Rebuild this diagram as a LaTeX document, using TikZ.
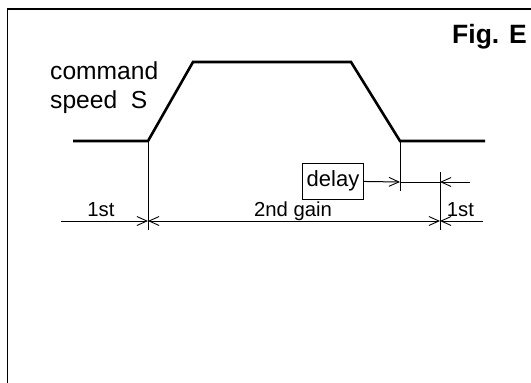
\documentclass[tikz,border=0pt]{standalone}
\usepackage{fontspec}
\setmainfont{Liberation Sans}
\usepackage{tikz}
\usetikzlibrary{arrows.meta}

\tikzset{
  profile/.style={line width=2.6pt, line join=miter},
  thin/.style={line width=1pt},
  dimtip/.style={-{Straight Barb[length=10pt,width=9pt,line width=0.9pt]}},
  dimtips/.style={{Straight Barb[length=10pt,width=9pt,line width=0.9pt]}-{Straight Barb[length=10pt,width=9pt,line width=0.9pt]}},
  delaybox/.style={draw, line width=1pt, minimum width=60.5pt, minimum height=36pt, inner sep=0pt, font=\fontsize{22}{26}\selectfont},
  dimlabel/.style={anchor=base, inner sep=0pt, font=\fontsize{20.3}{24}\selectfont}
}

\begin{document}
\begin{tikzpicture}[x=1pt, y=-1pt]
                \useasboundingbox (0,0) rectangle (531,383);
                \draw[line width=1.5pt] (7.5,383) -- (7.5,9) -- (531,9);
                \node[anchor=base east, inner sep=0pt, font=\bfseries\fontsize{26.5}{30}\selectfont] (fig) at (527,43) {Fig. E};
                \node[anchor=north west, align=left, inner sep=0pt, font=\fontsize{24.6}{29}\selectfont] (speed) at (50,61.5) {command\\speed~~S};
                \coordinate (a) at (73,141);
                \coordinate (b) at (148,141);
                \coordinate (c) at (193,62);
                \coordinate (d) at (351,62);
                \coordinate (e) at (400,141);
                \coordinate (f) at (485,141);
                \draw[profile] (a) -- (b) -- (c) -- (d) -- (e) -- (f);
                \coordinate (b0) at (148,230);
                \coordinate (e0) at (400,191);
                \coordinate (g1) at (440,172);
                \coordinate (g0) at (440,230);
                \draw[thin] (b) -- (b0);
                \draw[thin] (e) -- (e0);
                \draw[thin] (g1) -- (g0);
                \coordinate (l) at (61,221);
                \coordinate (p) at (148,221);
                \coordinate (q) at (440,221);
                \coordinate (r) at (483,221);
                \draw[thin, dimtip] (l) -- (p);
                \draw[thin, dimtips] (p) -- (q);
                \draw[thin, dimtip] (r) -- (q);
                \node[dimlabel] (first) at (101,216) {1st};
                \node[dimlabel] (second) at (293,216) {2nd gain};
                \node[dimlabel] (last) at (460.5,216) {1st};
                \node[delaybox] (delay) at (333,181) {delay};
                \coordinate (e1) at (400,182);
                \coordinate (q1) at (440,182);
                \coordinate (h) at (470,182);
                \draw[thin, dimtip] (delay) -- (e1);
                \draw[thin] (e1) -- (q1);
                \draw[thin, dimtip] (h) -- (q1);
\end{tikzpicture}
\end{document}
